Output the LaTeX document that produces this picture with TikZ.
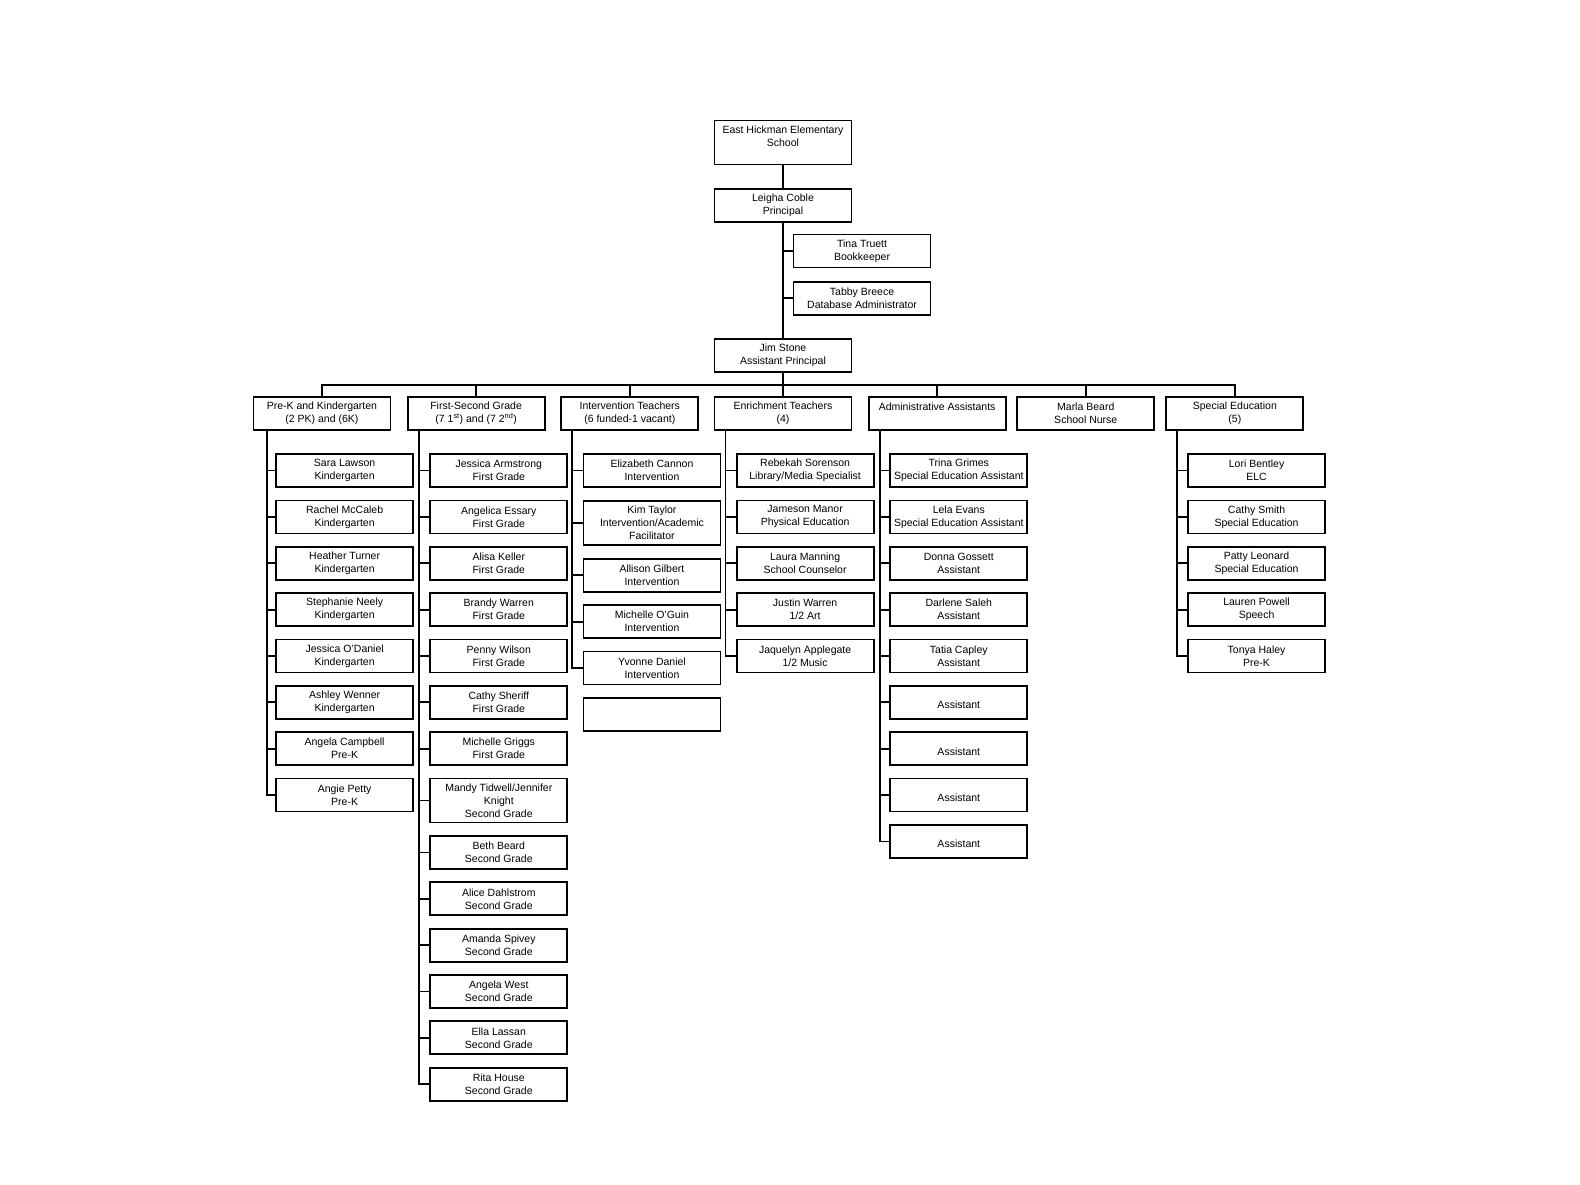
\documentclass[tikz,border=0pt]{standalone}
\usepackage{fontspec}
\setmainfont{Liberation Sans}
\usetikzlibrary{positioning}

\begin{document}
\begin{tikzpicture}[x=1.00765pt,y=-1.00765pt,
box/.style={draw,line width=1.8pt,minimum width=137pt,minimum height=33pt,inner sep=0pt,align=center,font=\fontsize{10.5}{13}\selectfont},
tall/.style={box,minimum height=44pt},
link/.style={line width=1.8pt},
down/.style={to path={|- (\tikztotarget)}},
across/.style={to path={-| (\tikztotarget)}}]
\useasboundingbox (0,0) rectangle (1568,1176);
\node[tall] (school) at (777,141.5) {East Hickman Elementary\\School\\\mbox{}};
\node[box] (princ) at (777,204) {Leigha Coble\\Principal};
\node[box] (book) at (855.5,249) {Tina Truett\\Bookkeeper};
\node[box] (dba) at (855.5,296) {Tabby Breece\\Database Administrator};
\node[box] (ap) at (777,353) {Jim Stone\\Assistant Principal};
\coordinate (bus) at (777,382);
\node[box] (pk) at (319.5,410) {Pre-K and Kindergarten\\(2 PK) and (6K)};
\node[box] (fs) at (472.5,410) {First-Second Grade\\(7 1\textsuperscript{st}) and (7 2\textsuperscript{nd})};
\node[box] (iv) at (625,410) {Intervention Teachers\\(6 funded-1 vacant)};
\node[box] (en) at (777,410) {Enrichment Teachers\\(4)};
\node[box] (ad) at (930,410) {Administrative Assistants\\\mbox{}};
\node[box] (nurse) at (1077.5,410) {Marla Beard\\School Nurse};
\node[box] (se) at (1225.5,410) {Special Education\\(5)};
\coordinate (pkl) at (265,427);
\coordinate (fsl) at (416,427);
\coordinate (ivl) at (568,427);
\coordinate (enl) at (720,427);
\coordinate (adl) at (873,427);
\coordinate (sel) at (1168,427);
\node[box] (pk1) at (342,467) {Sara Lawson\\Kindergarten};
\node[box] (pk2) at (342,513) {Rachel McCaleb\\Kindergarten};
\node[box] (pk3) at (342,559) {Heather Turner\\Kindergarten};
\node[box] (pk4) at (342,605) {Stephanie Neely\\Kindergarten};
\node[box] (pk5) at (342,651) {Jessica O'Daniel\\Kindergarten};
\node[box] (pk6) at (342,697) {Ashley Wenner\\Kindergarten};
\node[box] (pk7) at (342,743) {Angela Campbell\\Pre-K};
\node[box] (pk8) at (342,789) {Angie Petty\\Pre-K};
\node[box] (fs1) at (495,467) {Jessica Armstrong\\First Grade};
\node[box] (fs2) at (495,513) {Angelica Essary\\First Grade};
\node[box] (fs3) at (495,559) {Alisa Keller\\First Grade};
\node[box] (fs4) at (495,605) {Brandy Warren\\First Grade};
\node[box] (fs5) at (495,651) {Penny Wilson\\First Grade};
\node[box] (fs6) at (495,697) {Cathy Sheriff\\First Grade};
\node[box] (fs7) at (495,743) {Michelle Griggs\\First Grade};
\node[tall] (fs8) at (495,794.5) {Mandy Tidwell/Jennifer\\Knight\\Second Grade};
\node[box] (fs9) at (495,846) {Beth Beard\\Second Grade};
\node[box] (fs10) at (495,892) {Alice Dahlstrom\\Second Grade};
\node[box] (fs11) at (495,938) {Amanda Spivey\\Second Grade};
\node[box] (fs12) at (495,984) {Angela West\\Second Grade};
\node[box] (fs13) at (495,1030) {Ella Lassan\\Second Grade};
\node[box] (fs14) at (495,1076) {Rita House\\Second Grade};
\node[box] (iv1) at (647,467) {Elizabeth Cannon\\Intervention};
\node[tall] (iv2) at (647,519) {Kim Taylor\\Intervention/Academic\\Facilitator};
\node[box] (iv3) at (647,571) {Allison Gilbert\\Intervention};
\node[box] (iv4) at (647,617) {Michelle O'Guin\\Intervention};
\node[box] (iv5) at (647,663) {Yvonne Daniel\\Intervention};
\node[box] (iv6) at (647,709) {};
\node[box] (en1) at (799,467) {Rebekah Sorenson\\Library/Media Specialist};
\node[box] (en2) at (799,513) {Jameson Manor\\Physical Education};
\node[box] (en3) at (799,559) {Laura Manning\\School Counselor};
\node[box] (en4) at (799,605) {Justin Warren\\1/2 Art};
\node[box] (en5) at (799,651) {Jaquelyn Applegate\\1/2 Music};
\node[box] (ad1) at (951.5,467) {Trina Grimes\\Special Education Assistant};
\node[box] (ad2) at (951.5,513) {Lela Evans\\Special Education Assistant};
\node[box] (ad3) at (951.5,559) {Donna Gossett\\Assistant};
\node[box] (ad4) at (951.5,605) {Darlene Saleh\\Assistant};
\node[box] (ad5) at (951.5,651) {Tatia Capley\\Assistant};
\node[box] (ad6) at (951.5,697) {\mbox{}\\Assistant};
\node[box] (ad7) at (951.5,743) {\mbox{}\\Assistant};
\node[box] (ad8) at (951.5,789) {\mbox{}\\Assistant};
\node[box] (ad9) at (951.5,835) {\mbox{}\\Assistant};
\node[box] (se1) at (1247,467) {Lori Bentley\\ELC};
\node[box] (se2) at (1247,513) {Cathy Smith\\Special Education};
\node[box] (se3) at (1247,559) {Patty Leonard\\Special Education};
\node[box] (se4) at (1247,605) {Lauren Powell\\Speech};
\node[box] (se5) at (1247,651) {Tonya Haley\\Pre-K};
\path[link]
(school) edge (princ)
(princ) edge (ap)
(princ.south) edge[down] (book.west)
(princ.south) edge[down] (dba.west)
(ap) edge (bus)
(bus) edge[across] (pk.north)
(bus) edge[across] (fs.north)
(bus) edge[across] (iv.north)
(bus) edge (en.north)
(bus) edge[across] (ad.north)
(bus) edge[across] (nurse.north)
(bus) edge[across] (se.north)
(pkl) edge[down] (pk1.west) edge[down] (pk2.west) edge[down] (pk3.west) edge[down] (pk4.west)
(pkl) edge[down] (pk5.west) edge[down] (pk6.west) edge[down] (pk7.west) edge[down] (pk8.west)
(fsl) edge[down] (fs1.west) edge[down] (fs2.west) edge[down] (fs3.west) edge[down] (fs4.west)
(fsl) edge[down] (fs5.west) edge[down] (fs6.west) edge[down] (fs7.west) edge[down] (fs8.west)
(fsl) edge[down] (fs9.west) edge[down] (fs10.west) edge[down] (fs11.west) edge[down] (fs12.west)
(fsl) edge[down] (fs13.west) edge[down] (fs14.west)
(ivl) edge[down] (iv1.west) edge[down] (iv2.west) edge[down] (iv3.west) edge[down] (iv4.west)
(ivl) edge[down] (iv5.west)
(enl) edge[down] (en1.west) edge[down] (en2.west) edge[down] (en3.west) edge[down] (en4.west)
(enl) edge[down] (en5.west)
(adl) edge[down] (ad1.west) edge[down] (ad2.west) edge[down] (ad3.west) edge[down] (ad4.west)
(adl) edge[down] (ad5.west) edge[down] (ad6.west) edge[down] (ad7.west) edge[down] (ad8.west)
(adl) edge[down] (ad9.west)
(sel) edge[down] (se1.west) edge[down] (se2.west) edge[down] (se3.west) edge[down] (se4.west)
(sel) edge[down] (se5.west);
\end{tikzpicture}
\end{document}
